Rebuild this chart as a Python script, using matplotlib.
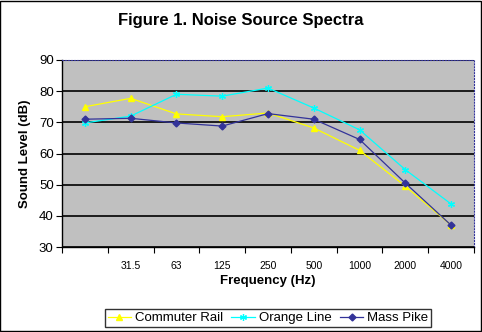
import matplotlib
matplotlib.use("Agg")
import matplotlib.pyplot as plt
import numpy as np

plt.rcParams['font.family'] = ['Liberation Sans', 'DejaVu Sans']

# category labels (first band has no label in the original)
freq_labels = ['', '31.5', '63', '125', '250', '500', '1000', '2000', '4000']

commuter_rail = [75, 77.7, 72.7, 71.8, 73, 68.2, 61, 49.5, 37]
orange_line = [69.8, 72, 79, 78.4, 81, 74.6, 67.6, 54.8, 43.8]
mass_pike = [71, 71.3, 69.8, 68.8, 72.8, 71, 64.5, 50.5, 37]

fig = plt.figure(figsize=(4.82, 3.32), dpi=100)
fig.patch.set_facecolor('white')
# outer chart border
fig.add_artist(plt.Rectangle((0.001, 0.002), 0.997, 0.995, transform=fig.transFigure,
                             fill=False, edgecolor='black', linewidth=1))

ax = fig.add_axes([62 / 482, 85 / 332, 412 / 482, 187 / 332])
ax.set_facecolor('#C0C0C0')

x = np.arange(len(freq_labels)) + 0.5

ax.plot(x, commuter_rail, color='#FFFF00', linewidth=0.9, marker='^', markersize=4.5,
        label='Commuter Rail', zorder=3)
ax.plot(x, orange_line, color='#00FFFF', linewidth=0.9, marker=(6, 2, 0), markersize=5,
        markeredgewidth=0.9, label='Orange Line', zorder=3)
ax.plot(x, mass_pike, color='#333399', linewidth=0.9, marker='D', markersize=3.5,
        label='Mass Pike', zorder=4)

ax.set_xlim(0, len(freq_labels))
ax.set_ylim(30, 90)
ax.set_yticks(range(30, 91, 10))
ax.yaxis.grid(True, color='black', linewidth=1.2)
ax.set_axisbelow(True)

# ticks between categories, labels centred in each band
ax.set_xticks(np.arange(len(freq_labels) + 1))
ax.set_xticklabels([])
ax.set_xticks(x, minor=True)
ax.set_xticklabels(freq_labels, minor=True)
ax.tick_params(axis='x', which='minor', length=0, labelsize=7.5, pad=10)
ax.tick_params(axis='x', which='major', length=4, direction='out')
ax.tick_params(axis='y', length=4, direction='out', labelsize=9.5, pad=2)

for side in ['top', 'right']:
    ax.spines[side].set_color('#333399')
    ax.spines[side].set_linestyle(':')
    ax.spines[side].set_linewidth(0.8)
ax.spines['left'].set_linewidth(1)
ax.spines['bottom'].set_linewidth(1)

ax.set_xlabel('Frequency (Hz)', fontsize=9.5, fontweight='bold', labelpad=3)
ax.set_ylabel('Sound Level (dB)', fontsize=9.5, fontweight='bold', labelpad=6)

fig.text(0.5, 0.937, 'Figure 1. Noise Source Spectra', ha='center', va='center',
         fontsize=12, fontweight='bold')

leg = fig.legend(loc='center', bbox_to_anchor=(268 / 482, 1 - 318 / 332), ncol=3,
                 frameon=True, fancybox=False, fontsize=9.5, handlelength=1.8,
                 handletextpad=0.3, columnspacing=0.6, borderpad=0.2,
                 borderaxespad=0)
leg.get_frame().set_edgecolor('black')
leg.get_frame().set_linewidth(1)

fig.savefig('out.png', dpi=100)
